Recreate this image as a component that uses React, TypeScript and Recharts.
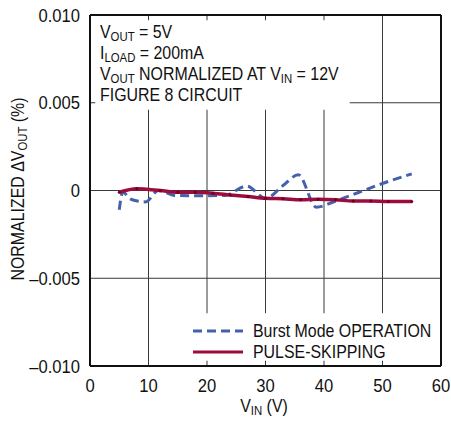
import {
  CartesianGrid,
  Line,
  LineChart,
  ReferenceArea,
  ReferenceLine,
  XAxis,
  YAxis,
} from "recharts";

const burstVin = [5, 5.6, 7, 9.5, 11.7, 14.5, 18, 23, 26.8, 30, 33, 35.6, 38.7, 42, 46, 50, 55];
const burstVal = [
  -0.0011, -0.0001, -0.0005, -0.00065, 0, -0.00028, -0.0003, -0.00028, 0.00025, -0.00045,
  0.00028, 0.0009, -0.00095, -0.0006, -0.0001, 0.0004, 0.00095,
];

const pulseVin = [5, 8, 12, 15, 18, 21, 24, 27, 30, 33, 36, 39, 42, 45, 48, 51, 55];
const pulseVal = [
  -0.0001, 0.0001, 0, -0.0001, -0.0001, -0.00015, -0.00025, -0.00034, -0.00044, -0.00047,
  -0.00053, -0.0005, -0.00053, -0.0006, -0.0006, -0.00063, -0.00063,
];

const xTicks = [0, 10, 20, 30, 40, 50, 60];
const yTicks = [-0.01, -0.005, 0, 0.005, 0.01];

const burst = burstVin.map((v, i) => ({ vin: v, val: burstVal[i] }));
const pulse = pulseVin.map((v, i) => ({ vin: v, val: pulseVal[i] }));

const FONT = "'Liberation Sans', Arial, sans-serif";
const INK = "#111";
const BLUE = "#4361ac";
const RED = "#9c0c3c";
const FS = 17.5;
const SX = 0.91;

function fmtY(v: number) {
  if (v === 0) return "0";
  const s = Math.abs(v).toFixed(3);
  return v < 0 ? "\u2013" + s : s;
}

function XTick({ x, payload }: any) {
  return (
    <text
      transform={`translate(${x},392) scale(0.95,1)`}
      textAnchor="middle"
      fontSize={FS}
      fill={INK}
      fontFamily={FONT}
    >
      {payload.value}
    </text>
  );
}

function YTick({ y, payload }: any) {
  return (
    <text
      transform={`translate(80,${y + 6.5}) scale(0.95,1)`}
      textAnchor="end"
      fontSize={FS}
      fill={INK}
      fontFamily={FONT}
    >
      {fmtY(payload.value)}
    </text>
  );
}

// one line of condensed text with optional subscripts: parts alternate normal / sub
function Txt({ x, y, parts, anchor = "start", rotate = false }: any) {
  const t = rotate
    ? `translate(${x},${y}) rotate(-90) scale(${SX},1)`
    : `translate(${x},${y}) scale(${SX},1)`;
  return (
    <text transform={t} textAnchor={anchor} fontSize={FS} fill={INK} fontFamily={FONT}>
      {parts.map((p: string, i: number) =>
        i % 2 === 1 ? (
          <tspan key={i} fontSize={12.5} dy={3}>
            {p}
          </tspan>
        ) : (
          <tspan key={i} dy={i === 0 ? 0 : -3}>
            {p}
          </tspan>
        )
      )}
    </text>
  );
}

const notes = [
  ["V", "OUT", " = 5V"],
  ["I", "LOAD", " = 200mA"],
  ["V", "OUT", " NORMALIZED AT V", "IN", " = 12V"],
  ["FIGURE 8 CIRCUIT"],
];
const noteBase = [38, 59, 80, 101];

const legendRows = [
  { name: "Burst Mode OPERATION", color: BLUE, dash: "9 5", y: 331 },
  { name: "PULSE-SKIPPING", color: RED, dash: undefined, y: 352 },
];

export default function App() {
  return (
    <div style={{ position: "absolute", left: 0, top: 0, width: 451, height: 421, background: "#fff" }}>
      <LineChart width={451} height={421} margin={{ top: 15, right: 10, bottom: 0, left: 0 }}>
        <CartesianGrid stroke="#3a3a3a" strokeWidth={1} />
        <XAxis
          type="number"
          dataKey="vin"
          domain={[0, 60]}
          ticks={xTicks}
          tickLine={false}
          axisLine={{ stroke: INK, strokeWidth: 2 }}
          tick={<XTick />}
          height={55}
        />
        <YAxis
          type="number"
          dataKey="val"
          domain={[-0.01, 0.01]}
          ticks={yTicks}
          tickLine={false}
          axisLine={{ stroke: INK, strokeWidth: 2 }}
          tick={<YTick />}
          width={90}
        />
        <ReferenceArea x1={0.9} x2={44.4} y1={0.0046} y2={0.0097} fill="#fff" fillOpacity={1} stroke="none" />
        <ReferenceArea x1={16.3} x2={59.8} y1={-0.0097} y2={-0.007} fill="#fff" fillOpacity={1} stroke="none" />
        <ReferenceLine y={0.01} stroke={INK} strokeWidth={2} />
        <ReferenceLine x={60} stroke={INK} strokeWidth={2} />
        <Line
          data={burst}
          dataKey="val"
          type="monotone"
          stroke={BLUE}
          strokeWidth={3}
          strokeDasharray="9 5"
          dot={false}
          isAnimationActive={false}
        />
        <Line
          data={pulse}
          dataKey="val"
          type="monotone"
          stroke={RED}
          strokeWidth={3.5}
          dot={{ r: 1.5, fill: "#6e0022", stroke: "none" }}
          isAnimationActive={false}
        />
      </LineChart>
      <svg
        width={451}
        height={421}
        style={{ position: "absolute", left: 0, top: 0, pointerEvents: "none" }}
      >
        {notes.map((parts, i) => (
          <Txt key={i} x={100} y={noteBase[i]} parts={parts} />
        ))}
        {legendRows.map((r) => (
          <g key={r.name}>
            <line x1={193} x2={243} y1={r.y} y2={r.y} stroke={r.color} strokeWidth={3} strokeDasharray={r.dash} />
            <Txt x={253} y={r.y + 6} parts={[r.name]} />
          </g>
        ))}
        <Txt x={264} y={412} anchor="middle" parts={["V", "IN", " (V)"]} />
        <Txt x={24} y={189} anchor="middle" rotate parts={["NORMALIZED \u0394V", "OUT", " (%)"]} />
      </svg>
    </div>
  );
}
